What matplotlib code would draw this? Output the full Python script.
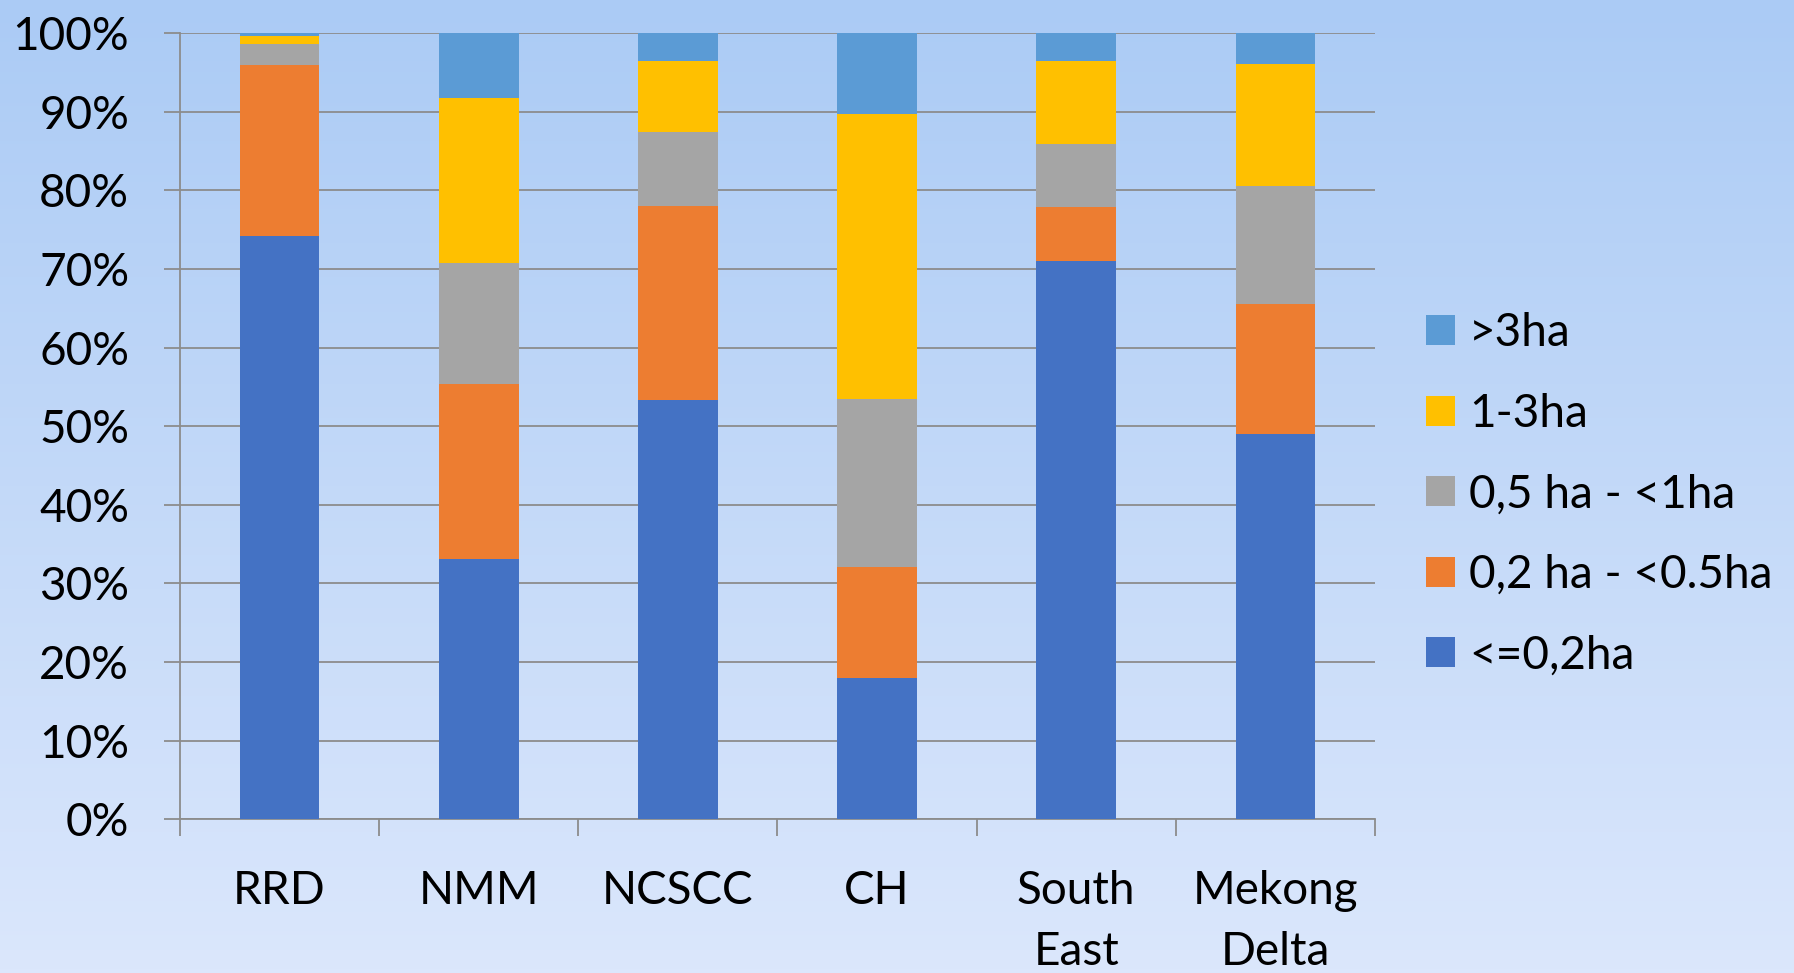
import numpy as np
import matplotlib
matplotlib.use("Agg")
import matplotlib.pyplot as plt
from matplotlib.patches import Patch
from matplotlib.ticker import FixedLocator, PercentFormatter

# Farm size shares by region (percent of households)
regions = ["RRD", "NMM", "NCSCC", "CH", "South\nEast", "Mekong\nDelta"]
size_labels = ["<=0,2ha", "0,2 ha - <0.5ha", "0,5 ha - <1ha", "1-3ha", ">3ha"]

below_02 = [74.2, 33.1, 53.3, 18.0, 71.0, 49.0]
from_02_to_05 = [21.8, 22.3, 24.7, 14.1, 6.9, 16.6]
from_05_to_1 = [2.6, 15.4, 9.4, 21.3, 8.0, 14.9]
from_1_to_3 = [1.0, 21.0, 9.1, 36.3, 10.5, 15.6]
above_3 = [0.4, 8.2, 3.5, 10.3, 3.6, 3.9]

colors = ["#4472C4", "#ED7D31", "#A5A5A5", "#FFC000", "#5B9BD5"]
series = [below_02, from_02_to_05, from_05_to_1, from_1_to_3, above_3]

plt.rcParams["font.family"] = ["Lato", "DejaVu Sans"]
FS = 33

fig = plt.figure(figsize=(17.94, 9.73), dpi=100)

# soft vertical blue gradient behind everything
bg = fig.add_axes([0, 0, 1, 1], zorder=-1)
top = np.array([171, 203, 245]) / 255
bottom = np.array([219, 231, 252]) / 255
t = np.linspace(0, 1, 256)[:, None]
grad = top * (1 - t) + bottom * t
bg.imshow(grad[:, None, :], aspect="auto", extent=[0, 1, 0, 1])
bg.set_axis_off()

ax = fig.add_axes([0.1003, 0.158, 0.6661, 0.808])
ax.patch.set_alpha(0)

x = np.arange(len(regions))
bottoms = np.zeros(len(regions))
handles = []
for vals, col, lab in zip(series, colors, size_labels):
    vals = np.array(vals)
    ax.bar(x, vals, width=0.4, bottom=bottoms, color=col, linewidth=0, zorder=3)
    bottoms += vals
    handles.append(Patch(facecolor=col, label=lab))

grid_col = "#8c8c8c"
ax.set_xlim(-0.5, len(regions) - 0.5)
ax.set_ylim(0, 100)
ax.set_yticks(np.arange(0, 101, 10))
ax.yaxis.set_major_formatter(PercentFormatter(decimals=0))
ax.grid(axis="y", color=grid_col, linewidth=1.3, zorder=0)
ax.set_axisbelow(True)

ax.set_xticks(x)
ax.set_xticklabels(regions, fontsize=FS, linespacing=1.55)
ax.xaxis.set_minor_locator(FixedLocator(np.arange(-0.5, len(regions), 1.0)))
ax.tick_params(axis="x", which="major", length=0, pad=36.5)
ax.tick_params(axis="x", which="minor", length=12, width=1.3, color=grid_col, direction="out")
ax.tick_params(axis="y", length=11.5, width=1.3, color=grid_col, pad=25, labelsize=FS)

for side in ["top", "right"]:
    ax.spines[side].set_visible(False)
for side in ["left", "bottom"]:
    ax.spines[side].set_color(grid_col)
    ax.spines[side].set_linewidth(1.3)

fig.legend(handles=handles[::-1], loc="center left", bbox_to_anchor=(0.795, 0.492),
           frameon=False, fontsize=FS, handlelength=0.63, handleheight=0.63,
           handletextpad=0.3, labelspacing=0.84, borderpad=0, borderaxespad=0)

fig.savefig("out.png", dpi=100)
